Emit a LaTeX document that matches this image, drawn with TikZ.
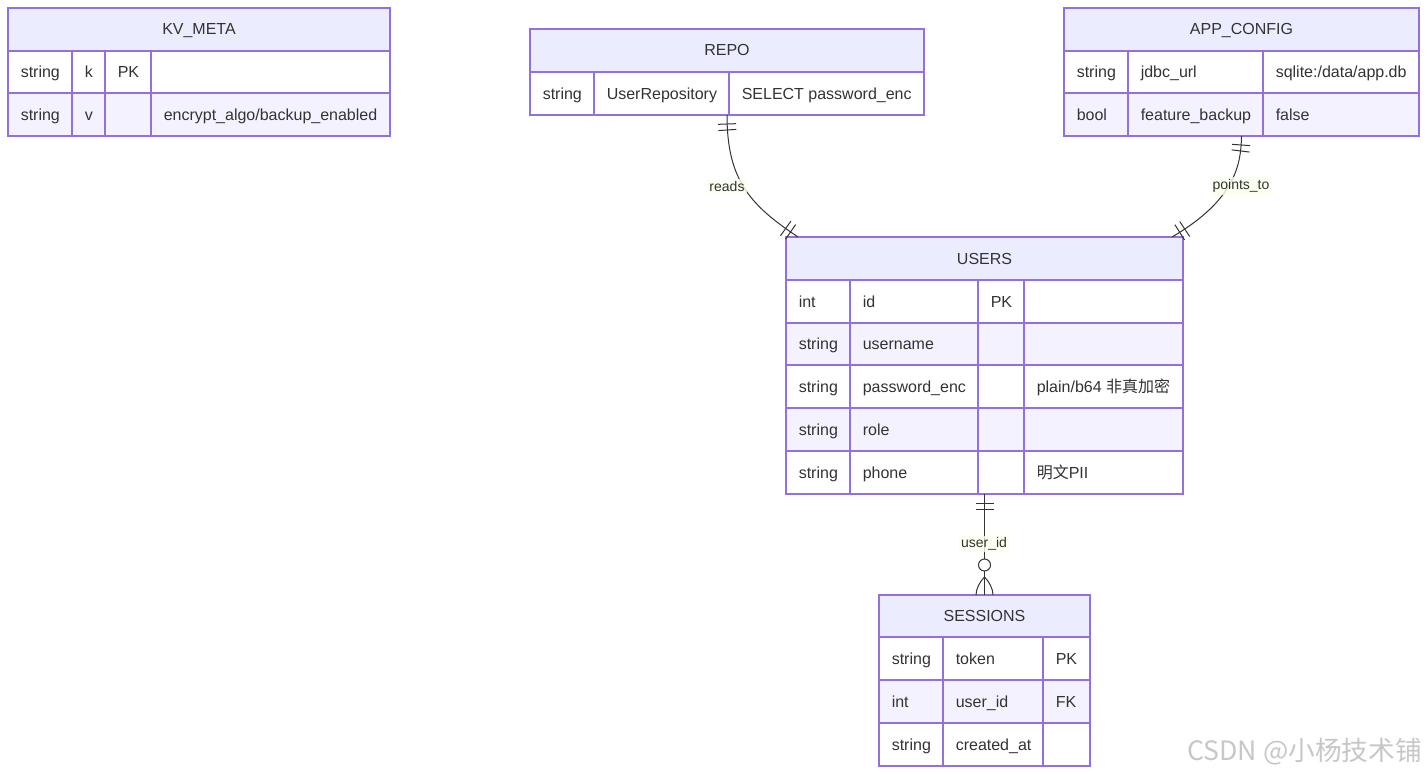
\documentclass[tikz,border=0pt]{standalone}
\usepackage{fontspec}
\setmainfont{Liberation Sans}
\newfontfamily\cjk{Noto Sans CJK SC}
\usetikzlibrary{decorations.markings,fit}
\definecolor{hdr}{HTML}{ECECFF}
\definecolor{brd}{HTML}{9370DB}
\definecolor{rowb}{HTML}{F4F2FF}
\definecolor{txt}{HTML}{333333}
\definecolor{lbl}{HTML}{F9FFEC}
\newcount\cellno
\tikzset{
  cellline/.style={draw=brd,line width=1pt},
  ctext/.style={text=txt,font=\fontsize{12}{14}\selectfont,inner sep=0pt},
  htext/.style={ctext,anchor=base},
  entity/.style={inner sep=0pt,outer sep=0pt,draw=brd,line width=1pt},
  rel/.style={draw=txt,line width=0.75pt},
  onetoone/.style={postaction={decorate,decoration={markings,
    mark=at position 6.75pt with {\draw[rel] (0,-9)--(0,9);},
    mark=at position 11.25pt with {\draw[rel] (0,-9)--(0,9);},
    mark=at position -11.25pt with {\draw[rel] (0,-9)--(0,9);},
    mark=at position -6.75pt with {\draw[rel] (0,-9)--(0,9);}}}},
  onetomany/.style={postaction={decorate,decoration={markings,
    mark=at position 6.75pt with {\draw[rel] (0,-9)--(0,9);},
    mark=at position 11.25pt with {\draw[rel] (0,-9)--(0,9);},
    mark=at position -22.5pt with {\draw[rel,fill=white] (0,0) circle (4.5pt);},
    mark=at position -13.5pt with {\draw[rel] (0,0) .. controls (5,5) and (12,8.5) .. (18,8.5);
                                    \draw[rel] (0,0) .. controls (5,-5) and (12,-8.5) .. (18,-8.5);}}}},
  elabel/.style={fill=lbl,fill opacity=0.8,text opacity=1,text=txt,font=\fontsize{10.5}{12}\selectfont,inner sep=1.5pt},
}
\newcommand\ecell[5]{%
  \draw[cellline,fill=#5] (#1,#2) rectangle (#3,#4);
  \global\advance\cellno by 1
  \node[ctext,anchor=base west] (cell\the\cellno) at ({#1+12.5},{(#2+#4)/2+5.5}) {};}
\newcommand\tcell[6]{%
  \draw[cellline,fill=#5] (#1,#2) rectangle (#3,#4);
  \global\advance\cellno by 1
  \node[ctext,anchor=base west] (cell\the\cellno) at ({#1+12.5},{(#2+#4)/2+5.5}) {#6};}
\newcommand\ehead[6]{%
  \draw[cellline,fill=hdr] (#2,#3) rectangle (#4,#5);
  \node[htext] (#1) at ({(#2+#4)/2},{(#3+#5)/2+5.5}) {#6};}
\begin{document}
\begin{tikzpicture}[x=0.75pt,y=-0.75pt]
\useasboundingbox (0,0) rectangle (1427,774);

% KV_META
\ehead{hkv}{8}{8}{390}{51}{KV\_META}
\tcell{8}{51}{72}{93}{white}{string}
\tcell{72}{51}{105}{93}{white}{k}
\tcell{105}{51}{151}{93}{white}{PK}
\ecell{151}{51}{390}{93}{white}
\tcell{8}{93}{72}{136}{rowb}{string}
\tcell{72}{93}{105}{136}{rowb}{v}
\ecell{105}{93}{151}{136}{rowb}
\tcell{151}{93}{390}{136}{rowb}{encrypt\_algo/backup\_enabled}
\node[entity,fit={(8,8) (390,136)}] (kvmeta) {};

% REPO
\ehead{hrepo}{530}{29}{924}{72}{REPO}
\tcell{530}{72}{594}{115}{white}{string}
\tcell{594}{72}{729}{115}{white}{UserRepository}
\tcell{729}{72}{924}{115}{white}{SELECT password\_enc}
\node[entity,fit={(530,29) (924,115)}] (repo) {};

% APP_CONFIG
\ehead{happ}{1064}{8}{1419}{51}{APP\_CONFIG}
\tcell{1064}{51}{1128}{93}{white}{string}
\tcell{1128}{51}{1263}{93}{white}{jdbc\_url}
\tcell{1263}{51}{1419}{93}{white}{sqlite:/data/app.db}
\tcell{1064}{93}{1128}{136}{rowb}{bool}
\tcell{1128}{93}{1263}{136}{rowb}{feature\_backup}
\tcell{1263}{93}{1419}{136}{rowb}{false}
\node[entity,fit={(1064,8) (1419,136)}] (appcfg) {};

% USERS
\ehead{husers}{786}{237}{1183}{280}{USERS}
\tcell{786}{280}{850}{323}{white}{int}
\tcell{850}{280}{978}{323}{white}{id}
\tcell{978}{280}{1024}{323}{white}{PK}
\ecell{1024}{280}{1183}{323}{white}
\tcell{786}{323}{850}{365}{rowb}{string}
\tcell{850}{323}{978}{365}{rowb}{username}
\ecell{978}{323}{1024}{365}{rowb}
\ecell{1024}{323}{1183}{365}{rowb}
\tcell{786}{365}{850}{408}{white}{string}
\tcell{850}{365}{978}{408}{white}{password\_enc}
\ecell{978}{365}{1024}{408}{white}
\tcell{1024}{365}{1183}{408}{white}{plain/b64 {\cjk 非真加密}}
\tcell{786}{408}{850}{451}{rowb}{string}
\tcell{850}{408}{978}{451}{rowb}{role}
\ecell{978}{408}{1024}{451}{rowb}
\ecell{1024}{408}{1183}{451}{rowb}
\tcell{786}{451}{850}{494}{white}{string}
\tcell{850}{451}{978}{494}{white}{phone}
\ecell{978}{451}{1024}{494}{white}
\tcell{1024}{451}{1183}{494}{white}{{\cjk 明文}PII}
\node[entity,fit={(786,237) (1183,494)}] (users) {};

% SESSIONS
\ehead{hsess}{879}{595}{1090}{637}{SESSIONS}
\tcell{879}{637}{943}{680}{white}{string}
\tcell{943}{637}{1043}{680}{white}{token}
\tcell{1043}{637}{1090}{680}{white}{PK}
\tcell{879}{680}{943}{723}{rowb}{int}
\tcell{943}{680}{1043}{723}{rowb}{user\_id}
\tcell{1043}{680}{1090}{723}{rowb}{FK}
\tcell{879}{723}{943}{766}{white}{string}
\tcell{943}{723}{1043}{766}{white}{created\_at}
\ecell{1043}{723}{1090}{766}{white}
\node[entity,fit={(879,595) (1090,766)}] (sessions) {};

% relationships
\draw[rel,onetoone] (repo.south) .. controls (727,180) and (750,205) .. ([xshift=9pt]users.north west);
\draw[rel,onetoone] (appcfg.south) .. controls (1241,165) and (1235,200) .. ([xshift=-8.25pt]users.north east);
\draw[rel,onetomany] (users.south) -- (sessions.north);

\node[elabel] (lreads) at (727,186) {reads};
\node[elabel] (lpoints) at (1241,186) {points\_to};
\node[elabel] (luid) at (984,544) {user\_id};

% watermark
\node[anchor=base east,inner sep=0pt,text=black!22] (wm) at (1422,760) {\cjk\fontsize{20}{24}\selectfont CSDN @小杨技术铺};
\end{tikzpicture}
\end{document}
